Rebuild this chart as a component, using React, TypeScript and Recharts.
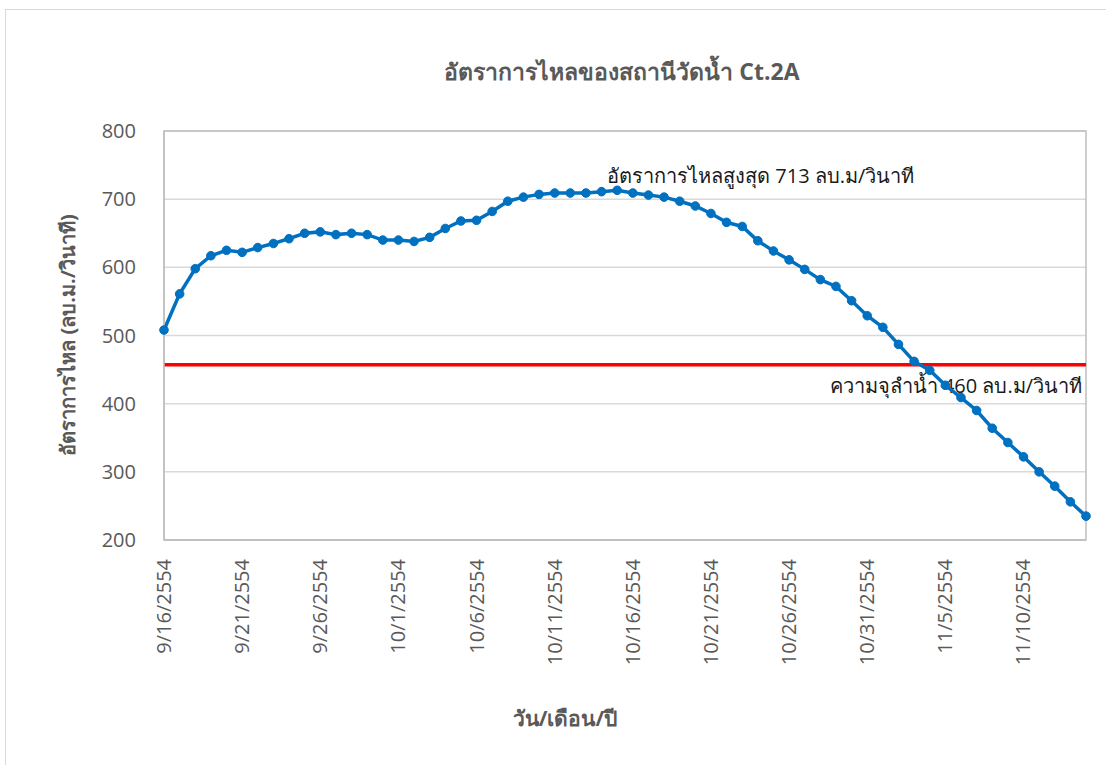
import { LineChart, Line, XAxis, YAxis, CartesianGrid, ReferenceLine, ReferenceArea, ReferenceDot } from "recharts"

const dates = [
  "9/16/2554", "9/17/2554", "9/18/2554", "9/19/2554", "9/20/2554", "9/21/2554", "9/22/2554", "9/23/2554",
  "9/24/2554", "9/25/2554", "9/26/2554", "9/27/2554", "9/28/2554", "9/29/2554", "9/30/2554",
  "10/1/2554", "10/2/2554", "10/3/2554", "10/4/2554", "10/5/2554", "10/6/2554", "10/7/2554", "10/8/2554",
  "10/9/2554", "10/10/2554", "10/11/2554", "10/12/2554", "10/13/2554", "10/14/2554", "10/15/2554",
  "10/16/2554", "10/17/2554", "10/18/2554", "10/19/2554", "10/20/2554", "10/21/2554", "10/22/2554",
  "10/23/2554", "10/24/2554", "10/25/2554", "10/26/2554", "10/27/2554", "10/28/2554", "10/29/2554",
  "10/30/2554", "10/31/2554", "11/1/2554", "11/2/2554", "11/3/2554", "11/4/2554", "11/5/2554",
  "11/6/2554", "11/7/2554", "11/8/2554", "11/9/2554", "11/10/2554", "11/11/2554", "11/12/2554",
  "11/13/2554", "11/14/2554",
]

const flow = [
  508, 561, 598, 617, 625, 622, 629, 635, 642, 650, 652, 648, 650, 648, 640,
  640, 638, 644, 657, 668, 669, 682, 697, 703, 707, 709, 709, 709, 711, 713,
  709, 706, 703, 697, 690, 679, 666, 660, 639, 624, 611, 597, 582, 572, 551,
  529, 512, 487, 462, 449, 427, 409, 390, 364, 343, 322, 300, 279, 256, 235,
]

const yTicks = [200, 300, 400, 500, 600, 700, 800]
const capacity = 457
const peakDate = "10/15/2554"
const peakFlow = 713

const data = dates.map((d, i) => ({ date: d, flow: flow[i] }))

const FONT = "'Open Sans', 'Noto Sans', sans-serif"
const GREY = "#595959"

function DateTick(props: any) {
  const { x, y, payload } = props
  const ty = y + 11
  return (
    <text
      x={x}
      y={ty}
      dy="0.35em"
      transform={`rotate(-90, ${x}, ${ty})`}
      textAnchor="end"
      fill={GREY}
      fontSize={20}
      fontFamily={FONT}
    >
      {payload.value}
    </text>
  )
}

export default function App() {
  return (
    <div
      style={{
        position: "absolute",
        left: 0,
        top: 0,
        width: 1106,
        height: 765,
        overflow: "hidden",
        background: "#fff",
        fontFamily: FONT,
      }}
    >
      {/* outer frame */}
      <div
        style={{
          position: "absolute",
          left: 5,
          top: 9,
          width: 1200,
          height: 900,
          border: "1px solid #d9d9d9",
        }}
      />

      <div
        style={{
          position: "absolute",
          left: 622,
          top: 72,
          transform: "translate(-50%, -50%)",
          whiteSpace: "nowrap",
          fontSize: 23,
          fontWeight: 700,
          color: GREY,
        }}
      >
        อัตราการไหลของสถานีวัดน้ำ Ct.2A
      </div>

      <div
        style={{
          position: "absolute",
          left: 68,
          top: 335,
          transform: "translate(-50%, -50%) rotate(-90deg)",
          whiteSpace: "nowrap",
          fontSize: 20,
          fontWeight: 700,
          color: GREY,
        }}
      >
        อัตราการไหล (ลบ.ม./วินาที)
      </div>

      <div
        style={{
          position: "absolute",
          left: 565,
          top: 718,
          transform: "translate(-50%, -50%)",
          whiteSpace: "nowrap",
          fontSize: 21,
          fontWeight: 700,
          color: GREY,
        }}
      >
        วัน/เดือน/ปี
      </div>

      <div style={{ position: "absolute", left: 0, top: 0 }}>
        <LineChart
          width={1106}
          height={765}
          data={data}
          margin={{ top: 131, right: 20, bottom: 125, left: 104 }}
        >
          <CartesianGrid horizontal vertical={false} stroke="#d9d9d9" strokeWidth={1.5} />
          <ReferenceArea
            x1={dates[0]}
            x2={dates[dates.length - 1]}
            y1={200}
            y2={800}
            fill="none"
            stroke="#bfbfbf"
            strokeWidth={1.5}
            fillOpacity={0}
          />
          <XAxis
            dataKey="date"
            interval={4}
            height={100}
            tick={<DateTick />}
            tickLine={false}
            axisLine={{ stroke: "#bfbfbf", strokeWidth: 1.5 }}
          />
          <YAxis
            width={60}
            domain={[200, 800]}
            ticks={yTicks}
            tickLine={false}
            axisLine={{ stroke: "#bfbfbf", strokeWidth: 1.5 }}
            tickMargin={22}
            tick={{ fill: GREY, fontSize: 20, fontFamily: FONT }}
          />
          <ReferenceLine
            y={capacity}
            stroke="#ff0000"
            strokeWidth={3.5}
            label={(p: any) => (
              <text
                x={p.viewBox.x + p.viewBox.width - 4}
                y={p.viewBox.y + 28}
                textAnchor="end"
                fontSize={20}
                fontFamily={FONT}
                fill="#1a1a1a"
              >
                ความจุลำน้ำ 460 ลบ.ม/วินาที
              </text>
            )}
          />
          <Line
            type="linear"
            dataKey="flow"
            stroke="#0070c0"
            strokeWidth={3.5}
            dot={{ r: 4.3, fill: "#0070c0", stroke: "#0070c0", strokeWidth: 1 }}
            isAnimationActive={false}
          />
          <ReferenceDot
            x={peakDate}
            y={peakFlow}
            r={0}
            fill="none"
            stroke="none"
            label={(p: any) => (
              <text
                x={p.viewBox.x - 10}
                y={p.viewBox.y - 7}
                textAnchor="start"
                fontSize={20}
                fontFamily={FONT}
                fill="#1a1a1a"
              >
                อัตราการไหลสูงสุด 713 ลบ.ม/วินาที
              </text>
            )}
          />
        </LineChart>
      </div>
    </div>
  )
}
